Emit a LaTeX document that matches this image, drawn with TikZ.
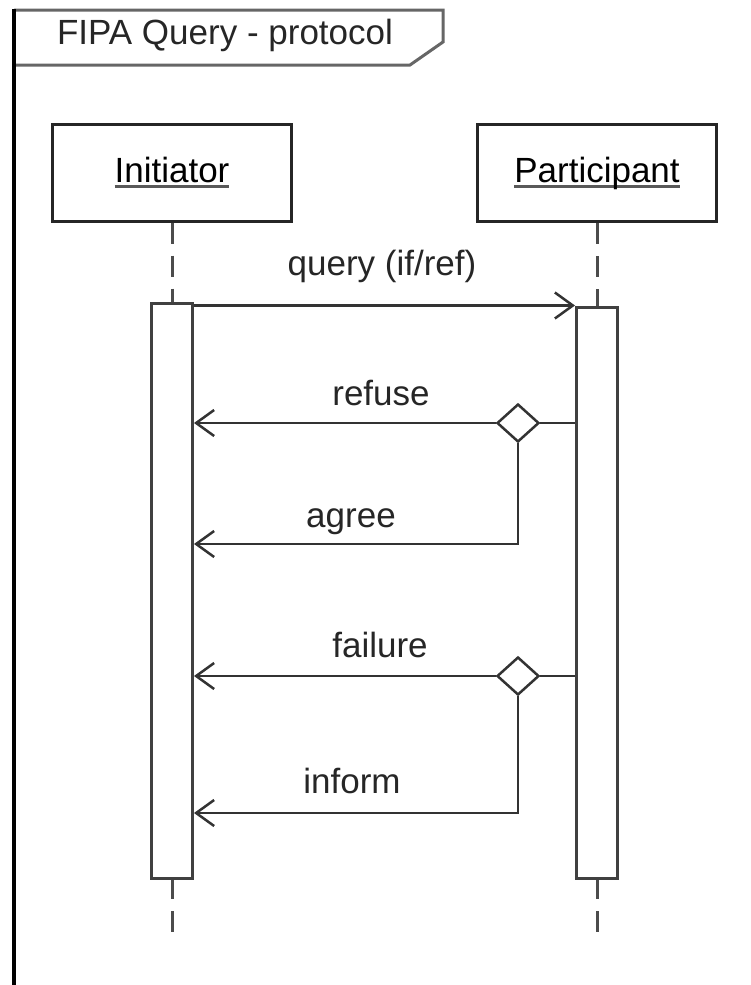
\documentclass[tikz,border=0pt]{standalone}
\usepackage{fontspec}
\setmainfont{Liberation Sans}
\usetikzlibrary{
    arrows.meta,
    positioning,
    shapes.geometric
}
\newlength\ulwd
\newcommand\ulname[1]{\settowidth\ulwd{#1}\rlap{\color{black!65}\rule[-6pt]{\ulwd}{3pt}}#1}

\begin{document}
\begin{tikzpicture}[x=1pt, y=-1pt,
    lifebox/.style  = {rectangle, draw=black!85, line width=3pt,
                       minimum width=239pt, minimum height=97pt, inner sep=0pt},
    actbar/.style   = {rectangle, draw=black!75, line width=3pt, fill=white,
                       minimum width=41pt, inner sep=0pt},
    choice/.style   = {diamond, draw=black!80, line width=2.5pt, fill=white,
                       minimum width=42pt, minimum height=38pt, inner sep=0pt},
    msg/.style      = {draw=black!80, line width=2.5pt,
                       -{Straight Barb[length=18pt,width=26pt,line width=2.5pt]}},
    plain/.style    = {draw=black!80, line width=2.5pt},
    lifeline/.style = {draw=black!70, line width=3pt, dash pattern=on 21pt off 12pt},
    msglabel/.style = {anchor=base, inner sep=0pt, text=black!85},
    font=\fontsize{35}{40}\selectfont
]
    \useasboundingbox (0,0) rectangle (751,985);

    %Frame
    \draw[black!60, line width=3pt] (14,10) -- (443,10) -- (443,42) -- (410,65) -- (14,65);
    \draw[black, line width=4pt] (14,8.5) -- (14,985);
    \node[msglabel] (title) at (225,44) {FIPA Query - protocol};

    %Lifelines
    \node[lifebox]                     (initiator)   at (172,172.5) {\ulname{Initiator}};
    \node[lifebox]                     (participant) at (597,173)   {\ulname{Participant}};
    \coordinate (initend) at (172,935);
    \coordinate (partend) at (597,935);
    \draw[lifeline] (initiator.south) -- (initiator.south |- 0,303);
    \draw[lifeline] (participant.south) -- (participant.south |- 0,307);
    \draw[lifeline] (initiator.south |- 0,878) -- (initend);
    \draw[lifeline] (participant.south |- 0,878) -- (partend);
    \node[actbar, minimum height=575pt] (initbar) at (172,590.5) {};
    \node[actbar, minimum height=571pt] (partbar) at (597,592.5) {};

    %Choices
    \node[choice] (refusechoice)  at (518,423) {};
    \node[choice] (failurechoice) at (518,676) {};
    \coordinate (agreecorner)  at (518,544);
    \coordinate (informcorner) at (518,813);

    %Messages
    \draw[msg] (initbar.east |- partbar.north) -- (partbar.north west);
    \draw[plain] (partbar.west |- refusechoice) -- (refusechoice.east);
    \draw[msg] (refusechoice.west) -- (initbar.east |- refusechoice);
    \draw[msg] (refusechoice.south) -- (agreecorner) -- (initbar.east |- agreecorner);
    \draw[plain] (partbar.west |- failurechoice) -- (failurechoice.east);
    \draw[msg] (failurechoice.west) -- (initbar.east |- failurechoice);
    \draw[msg] (failurechoice.south) -- (informcorner) -- (initbar.east |- informcorner);

    %Labels
    \node[msglabel] (lquery)   at (382,275) {query (if/ref)};
    \node[msglabel] (lrefuse)  at (381,405) {refuse};
    \node[msglabel] (lagree)   at (351,527) {agree};
    \node[msglabel] (lfailure) at (380,657) {failure};
    \node[msglabel] (linform)  at (352,793) {inform};
\end{tikzpicture}
\end{document}
